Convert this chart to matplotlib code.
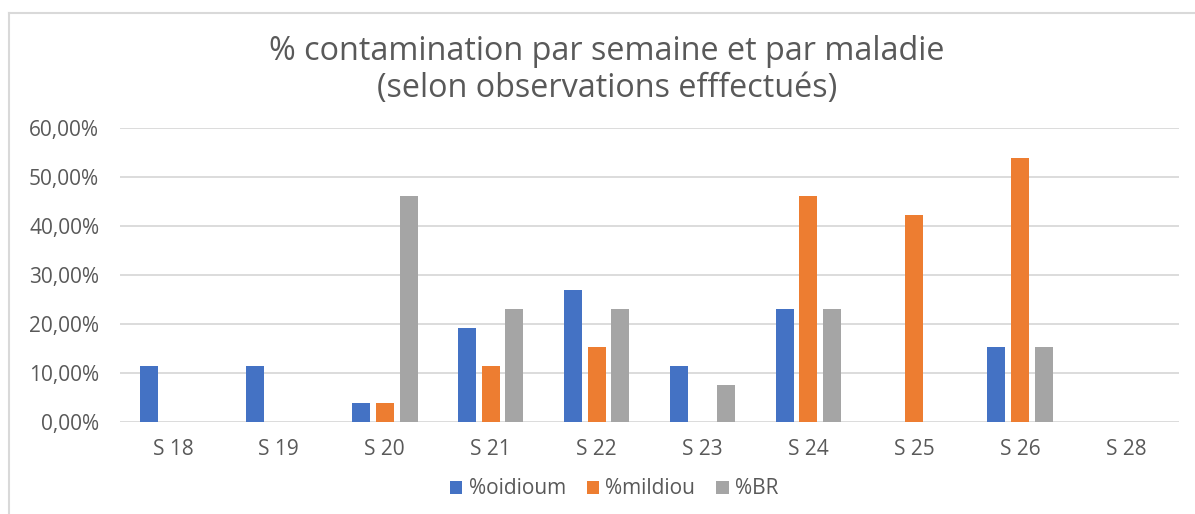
import matplotlib
matplotlib.use("Agg")
import matplotlib.pyplot as plt
from matplotlib.lines import Line2D
from matplotlib.ticker import FuncFormatter
import numpy as np

weeks = ["S 18", "S 19", "S 20", "S 21", "S 22", "S 23", "S 24", "S 25", "S 26", "S 28"]
oidium = [11.54, 11.54, 3.85, 19.23, 26.92, 11.54, 23.08, 0.0, 15.38, 0.0]
mildiou = [0.0, 0.0, 3.85, 11.54, 15.38, 0.0, 46.15, 42.31, 53.85, 0.0]
br = [0.0, 0.0, 46.15, 23.08, 23.08, 7.69, 23.08, 0.0, 15.38, 0.0]
series_names = ["%oidioum", "%mildiou", "%BR"]
colors = ["#4472C4", "#ED7D31", "#A5A5A5"]

plt.rcParams['font.family'] = ['Open Sans', 'DejaVu Sans']
txt = "#595959"

fig = plt.figure(figsize=(11.95, 5.14), dpi=100)
ax = fig.add_axes([120/1195, 1-422.3/514, (1179-120)/1195, (422.3-127.7)/514])

x = np.arange(len(weeks))
pitch = 0.225
width = 0.17
handles = []
for i, (vals, name, c) in enumerate(zip([oidium, mildiou, br], series_names, colors)):
    h = ax.bar(x + (i-1)*pitch, vals, width=width, color=c, label=name, zorder=3)
    handles.append(h)

ax.set_xlim(-0.5, len(weeks)-0.5)
ax.set_ylim(0, 60)
ax.set_yticks(np.arange(0, 61, 10))
ax.yaxis.set_major_formatter(FuncFormatter(lambda v, p: f"{v:.2f}".replace(".", ",") + "%"))
ax.set_xticks(x)
ax.set_xticklabels(weeks)
ax.grid(axis='y', color='#D9D9D9', linewidth=1.3, zorder=0)
for s in ax.spines.values():
    s.set_visible(False)
ax.tick_params(axis='both', length=0, colors=txt, labelsize=15)
ax.tick_params(axis='y', pad=15)
ax.tick_params(axis='x', pad=12)

fig.text(0.508, 1-52/514, "% contamination par semaine et par maladie", ha='center', va='center',
         fontsize=23.3, color=txt)
fig.text(0.508, 1-88/514, "(selon observations efffectués)", ha='center', va='center',
         fontsize=23.3, color=txt)

fig.legend(handles=handles, labels=series_names, loc='center', bbox_to_anchor=(614/1195, 1-489/514),
           ncol=3, frameon=False, fontsize=15, labelcolor=txt, handlelength=0.6, handleheight=0.6,
           handletextpad=0.3, columnspacing=1.0)

fig.add_artist(Line2D([9/1195, 1.0], [1-13/514, 1-13/514], transform=fig.transFigure, color='#D9D9D9', linewidth=1.5))
fig.add_artist(Line2D([9/1195, 9/1195], [0, 1-13/514], transform=fig.transFigure, color='#D9D9D9', linewidth=1.5))

fig.savefig("out.png", dpi=100, facecolor='white')
